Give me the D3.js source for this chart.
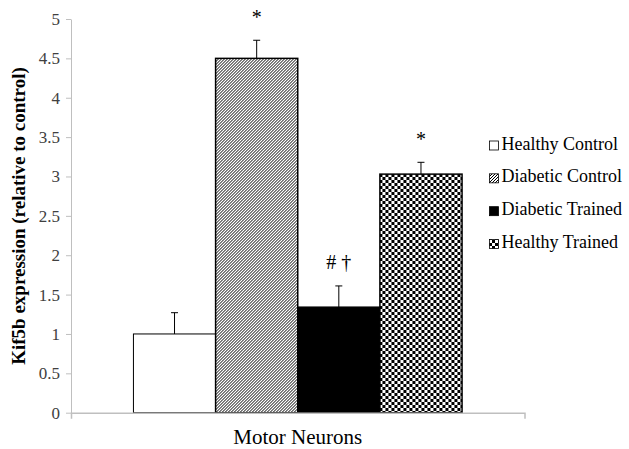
<!DOCTYPE html>
<html>
<head>
<meta charset="utf-8">
<script src="https://cdn.jsdelivr.net/npm/d3@7"></script>
</head>
<body style="margin:0">
<svg id="chart" width="629" height="449"></svg>
<script>
// data
const category = ['Motor Neurons'];
const groups = ['Healthy Control', 'Diabetic Control', 'Diabetic Trained', 'Healthy Trained'];
const values = [1.0, 4.5, 1.34, 3.03];
const errors = [0.27, 0.23, 0.27, 0.15];
const marks = ['', '*', '# \u2020', '*'];
const yTicks = [0, 0.5, 1, 1.5, 2, 2.5, 3, 3.5, 4, 4.5, 5];
const fills = ['#fff', 'url(#hatch)', '#000', 'url(#checker)'];

const serif = 'Liberation Serif';

let svg = d3.select('#chart').style('display', 'block');
let defs = svg.append('defs');

let hatch = defs.append('pattern').attr('id', 'hatch').attr('patternUnits', 'userSpaceOnUse')
  .attr('width', 3).attr('height', 3);
hatch.append('rect').attr('width', 3).attr('height', 3).attr('fill', '#fff');
hatch.append('path').attr('d', 'M-1,1 l2,-2 M0,3 l3,-3 M2,4 l2,-2')
  .attr('stroke', '#000').attr('stroke-width', 1);

let checker = defs.append('pattern').attr('id', 'checker').attr('patternUnits', 'userSpaceOnUse')
  .attr('width', 6).attr('height', 6);
checker.append('rect').attr('width', 6).attr('height', 6).attr('fill', '#fff');
checker.append('rect').attr('width', 3).attr('height', 3).attr('fill', '#000');
checker.append('rect').attr('x', 3).attr('y', 3).attr('width', 3).attr('height', 3).attr('fill', '#000');

let y = d3.scaleLinear().domain([0, 5]).range([412.7, 19]);
let x0 = d3.scaleBand().domain(category).range([71, 524.5]).paddingOuter(0.19).paddingInner(0);
let x1 = d3.scaleBand().domain(groups).range([0, x0.bandwidth()]);

// y axis
let yAxis = svg.append('g').attr('transform', 'translate(71,0)')
  .call(d3.axisLeft(y).tickValues(yTicks).tickFormat(d3.format('')).tickSize(5).tickSizeOuter(0).tickPadding(6));
yAxis.attr('font-family', serif).attr('font-size', 17);
yAxis.select('.domain').attr('stroke', '#bfbfbf');
yAxis.selectAll('.tick line').attr('stroke', '#bfbfbf');
yAxis.selectAll('.tick text').attr('fill', '#404040').style('font-family', serif).style('font-size', '17px');

// bars
let bars = svg.append('g').attr('transform', `translate(${x0(category[0])},0)`);
bars.selectAll('rect').data(groups).join('rect')
  .attr('x', d => x1(d)).attr('width', x1.bandwidth())
  .attr('y', (d, i) => y(values[i])).attr('height', (d, i) => y(0) - y(values[i]))
  .attr('fill', (d, i) => fills[i]).attr('stroke', '#000').attr('stroke-width', (d, i) => i == 0 ? 1 : 1.5);

// error bars (upper only)
bars.selectAll('path.err').data(groups).join('path').attr('class', 'err')
  .attr('d', (d, i) => {
    let cx = x1(d) + x1.bandwidth() / 2;
    return `M${cx},${y(values[i])}V${y(values[i] + errors[i])}M${cx - 3.5},${y(values[i] + errors[i])}h7`;
  })
  .attr('stroke', '#000').attr('stroke-width', 1).attr('fill', 'none');

// significance marks
bars.selectAll('text.mark').data(groups).join('text').attr('class', 'mark')
  .attr('x', d => x1(d) + x1.bandwidth() / 2)
  .attr('y', (d, i) => marks[i] == '*' ? y(values[i] + errors[i]) - 21 : y(values[i] + errors[i]) - 22)
  .attr('text-anchor', 'middle').attr('dominant-baseline', 'middle')
  .style('font-family', serif).style('font-size', '20px').attr('fill', '#000')
  .text((d, i) => marks[i]);

// x axis
let xAxis = svg.append('g').attr('transform', `translate(0,${y(0)})`)
  .call(d3.axisBottom(x0).tickSize(0).tickSizeOuter(6).tickPadding(16));
xAxis.attr('font-family', serif).attr('font-size', 21);
xAxis.select('.domain').attr('stroke', '#bfbfbf').attr('stroke-width', 1.5);
xAxis.selectAll('.tick text').attr('fill', '#000').style('font-family', serif).style('font-size', '21px');

// y title
svg.append('text').attr('transform', 'translate(21,216) rotate(-90)')
  .attr('text-anchor', 'middle').attr('dominant-baseline', 'middle')
  .style('font-family', serif).style('font-size', '19px').style('font-weight', 'bold').attr('fill', '#000')
  .text('Kif5b expression (relative to control)');

// legend
let legY = d3.scalePoint().domain(groups).range([145.5, 244]);
let leg = svg.append('g');
leg.selectAll('rect').data(groups).join('rect')
  .attr('x', 489.5).attr('y', d => legY(d) - 4.5).attr('width', 9).attr('height', 9)
  .attr('fill', (d, i) => fills[i]).attr('stroke', '#000').attr('stroke-width', 0.8);
leg.selectAll('text').data(groups).join('text')
  .attr('x', 501.5).attr('y', d => legY(d)).attr('dominant-baseline', 'middle')
  .style('font-family', serif).style('font-size', '18px').attr('fill', '#000')
  .text(d => d);
</script>
</body>
</html>
